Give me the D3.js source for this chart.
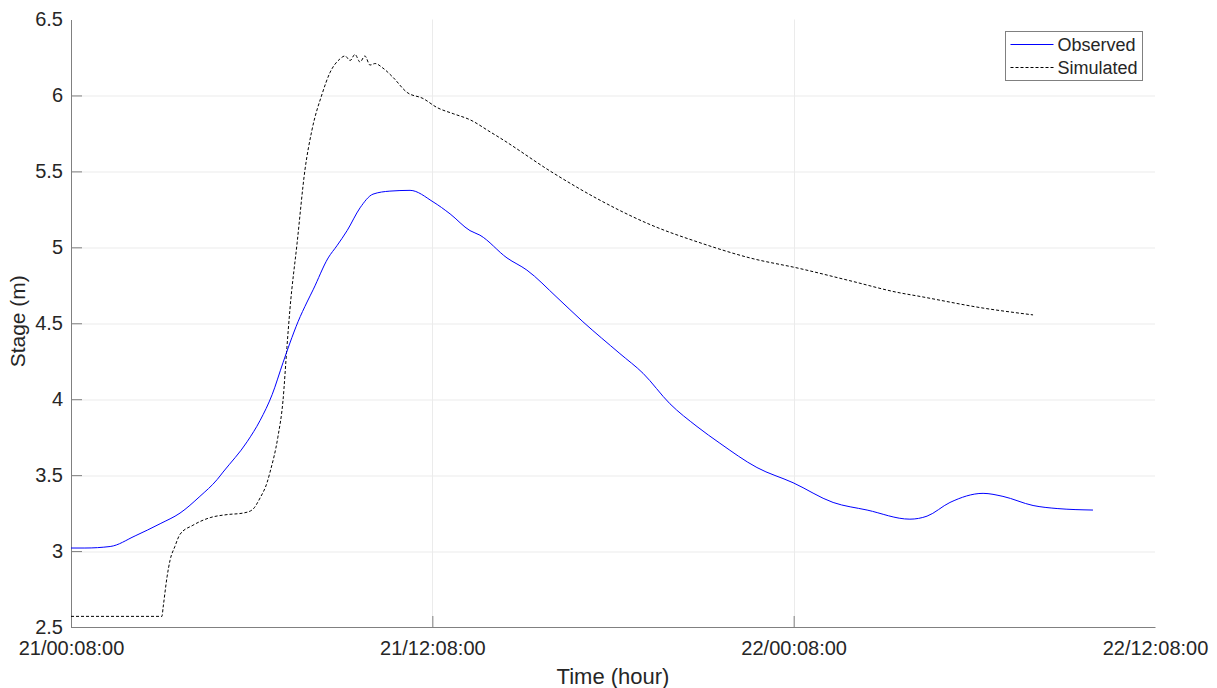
<!DOCTYPE html>
<html>
<head>
<meta charset="utf-8">
<script src="https://cdnjs.cloudflare.com/ajax/libs/d3/7.8.5/d3.min.js"></script>
<style>
    body { margin: 0; background: #fff; }
    text { font-family: Arial, "Liberation Sans", Helvetica, sans-serif; fill: #262626; }
    .axis path, .axis line { stroke: #808080; }
    .grid line { stroke: #ebebeb; }
</style>
</head>
<body>
<div id="vis"></div>
<script>
// hours since 21/00:08:00
var obsHours = [0, 0.46, 1.30, 2.13, 2.96, 3.62, 4.28, 4.85, 5.05, 5.85, 6.28, 6.68, 7.04, 7.27,
    7.54, 7.84, 8.04, 8.54, 8.83, 9.17, 9.60, 10.03, 10.59, 11.26, 12.02, 12.59, 13.25, 13.58,
    14.48, 15.14, 16.14, 17.00, 18.23, 19.00, 19.89, 20.79, 21.55, 22.78, 23.98, 25.31, 26.44,
    27.86, 28.43, 29.19, 30.29, 30.95, 31.95, 32.75, 33.94];
var obsStage = [3.02, 3.02, 3.03, 3.10, 3.18, 3.25, 3.36, 3.47, 3.52, 3.72, 3.86, 4.03, 4.24, 4.37,
    4.51, 4.64, 4.72, 4.93, 5.01, 5.11, 5.26, 5.35, 5.37, 5.375, 5.30, 5.22, 5.11, 5.08,
    4.93, 4.85, 4.67, 4.51, 4.30, 4.17, 3.97, 3.82, 3.71, 3.55, 3.45, 3.32, 3.27,
    3.21, 3.23, 3.32, 3.38, 3.36, 3.30, 3.28, 3.27];

var simHours = [0, 3.02, 3.06, 3.19, 3.29, 3.45, 3.62, 4.05, 4.62, 5.18, 5.71, 6.01, 6.28, 6.51,
    6.61, 6.87, 7.04, 7.17, 7.27, 7.51, 7.77, 8.00, 8.34, 8.60, 8.93, 9.10, 9.27, 9.43, 9.60,
    9.76, 9.93, 10.10, 10.36, 10.69, 11.16, 11.69, 12.16, 12.69, 13.25, 13.92, 14.25, 16.01,
    17.57, 19.23, 20.89, 22.55, 24.21, 25.87, 27.53, 28.10, 30.29, 31.95];
var simStage = [2.57, 2.57, 2.63, 2.83, 2.94, 3.03, 3.11, 3.17, 3.22, 3.24, 3.25, 3.27, 3.35, 3.45,
    3.52, 3.75, 3.99, 4.34, 4.59, 5.03, 5.51, 5.77, 6.01, 6.15, 6.24, 6.26, 6.23, 6.27, 6.22,
    6.26, 6.20, 6.21, 6.18, 6.12, 6.02, 5.98, 5.92, 5.88, 5.84, 5.76, 5.72, 5.49,
    5.31, 5.15, 5.03, 4.93, 4.86, 4.78, 4.70, 4.68, 4.60, 4.555];

var xTicks = [0, 12, 24, 36];
var xTickLabels = ['21/00:08:00', '21/12:08:00', '22/00:08:00', '22/12:08:00'];
var yTicks = [2.5, 3, 3.5, 4, 4.5, 5, 5.5, 6, 6.5];
var seriesNames = ['Observed', 'Simulated'];

var width = 1217;
var height = 688;
var margin = { top: 19.5, right: 62, bottom: 61, left: 71 };
var drawWidth = width - margin.left - margin.right;
var drawHeight = height - margin.top - margin.bottom;

var svg = d3.select('#vis')
            .append('svg')
            .attr('width', width)
            .attr('height', height);

var g = svg.append('g')
           .attr('transform', 'translate(' + margin.left + ',' + margin.top + ')');

var xScale = d3.scaleLinear().domain([0, 36]).range([0, drawWidth]);
var yScale = d3.scaleLinear().domain([2.5, 6.5]).range([drawHeight, 0]);

// grid
var grid = g.append('g').attr('class', 'grid');
grid.selectAll('line.h')
    .data(yTicks.slice(1, -1))
    .enter().append('line')
    .attr('class', 'h')
    .attr('x1', 0).attr('x2', drawWidth)
    .attr('y1', function(d) { return Math.round(yScale(d)) + 0.5; })
    .attr('y2', function(d) { return Math.round(yScale(d)) + 0.5; });

grid.selectAll('line.v')
    .data(xTicks.slice(1, -1))
    .enter().append('line')
    .attr('class', 'v')
    .attr('y1', 0).attr('y2', drawHeight)
    .attr('x1', function(d) { return Math.round(xScale(d)) + 0.5; })
    .attr('x2', function(d) { return Math.round(xScale(d)) + 0.5; });

// axes
var xAxis = d3.axisBottom(xScale)
              .tickValues(xTicks)
              .tickSizeInner(-11)
              .tickSizeOuter(0)
              .tickPadding(14)
              .tickFormat(function(d, i) { return xTickLabels[i]; });

var yAxis = d3.axisLeft(yScale)
              .tickValues(yTicks)
              .tickSizeInner(-11)
              .tickSizeOuter(0)
              .tickPadding(8)
              .tickFormat(function(d) { return String(d); });

var gx = g.append('g')
          .attr('class', 'axis')
          .attr('transform', 'translate(0,' + drawHeight + ')')
          .call(xAxis);
gx.selectAll('text').style('font-size', '20px').attr('fill', '#262626');
gx.selectAll('.tick').filter(function(d) { return d === 36; }).select('line').remove();

var gy = g.append('g')
          .attr('class', 'axis')
          .call(yAxis);
gy.selectAll('text').style('font-size', '20px').attr('fill', '#262626');
gy.selectAll('.tick').filter(function(d) { return d === 6.5; }).select('line').remove();

// lines
var line = d3.line()
             .curve(d3.curveMonotoneX)
             .x(function(d) { return xScale(d[0]); })
             .y(function(d) { return yScale(d[1]); });

var obsData = obsHours.map(function(h, i) { return [h, obsStage[i]]; });
var simData = simHours.map(function(h, i) { return [h, simStage[i]]; });

g.append('path')
    .datum(simData)
    .attr('fill', 'none')
    .attr('stroke', '#000')
    .attr('stroke-width', 1)
    .attr('stroke-dasharray', '3,2')
    .attr('d', line);

g.append('path')
    .datum(obsData)
    .attr('fill', 'none')
    .attr('stroke', '#0000ff')
    .attr('stroke-width', 1)
    .attr('d', line);

// axis labels
svg.append('text')
    .attr('x', margin.left + drawWidth / 2)
    .attr('y', 684)
    .attr('text-anchor', 'middle')
    .style('font-size', '22px')
    .text('Time (hour)');

svg.append('text')
    .attr('transform', 'translate(25,' + (margin.top + drawHeight / 2 - 2) + ') rotate(-90)')
    .attr('text-anchor', 'middle')
    .style('font-size', '21px')
    .text('Stage (m)');

// legend
var legend = svg.append('g').attr('transform', 'translate(1005.5,31.5)');
legend.append('rect')
    .attr('width', 137).attr('height', 49)
    .attr('fill', '#fff')
    .attr('stroke', '#808080');

var legendStyles = [{ color: '#0000ff', dash: null }, { color: '#000', dash: '3,2' }];
seriesNames.forEach(function(name, i) {
    var ly = 13 + i * 23;
    legend.append('line')
        .attr('x1', 5).attr('x2', 48)
        .attr('y1', ly).attr('y2', ly)
        .attr('stroke', legendStyles[i].color)
        .attr('stroke-dasharray', legendStyles[i].dash);
    legend.append('text')
        .attr('x', 52).attr('y', ly + 6)
        .style('font-size', '18px')
        .text(name);
});
</script>
</body>
</html>
